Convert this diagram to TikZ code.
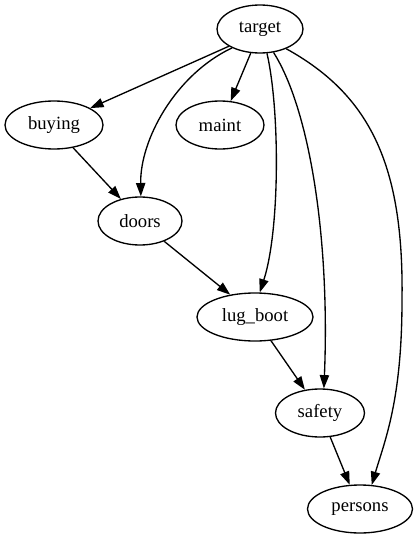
\documentclass[tikz,border=0pt]{standalone}
\usepackage{fontspec}
\setmainfont{Liberation Serif}
\usetikzlibrary{shapes.geometric, arrows.meta}
\tikzstyle{attr}=[ellipse, draw, line width=1pt, minimum height=36pt, inner sep=0pt, font=\fontsize{14}{16}\selectfont]
\tikzstyle{link}=[line width=1pt, -{Triangle[length=10pt, width=7pt]}]

\begin{document}
\begin{tikzpicture}[x=0.75pt, y=-0.75pt]
				\useasboundingbox (0,0) rectangle (418,539);

				\node[attr, minimum width=64.5pt] (target) at (260,29) {target};
				\node[attr, minimum width=73.5pt] (buying) at (54,125) {buying};
				\node[attr, minimum width=66pt] (maint) at (220,125) {maint};
				\node[attr, minimum width=63pt] (doors) at (140,221) {doors};
				\node[attr, minimum width=87pt] (lugboot) at (255,317) {lug\_boot};
				\node[attr, minimum width=66.75pt] (safety) at (320,413) {safety};
				\node[attr, minimum width=78.75pt] (persons) at (360,509) {persons};

				\draw[link] (target.209) -- (buying.25);
				\draw[link] (target.249) -- (maint.66);
				\draw[link] (target.214) .. controls (175,75) and (140,140) .. (doors.88);
				\draw[link] (target.286) .. controls (280,110) and (280,230) .. (lugboot.79);
				\draw[link] (target.300) .. controls (310,110) and (330,240) .. (safety.81);
				\coordinate (bend) at (402,300);
				\draw[link] (target.323) .. controls (370,95) and (404,165) .. (bend)
					.. controls (402,400) and (385,440) .. (persons.64);

				\draw[link] (buying.310) -- (doors.131);
				\draw[link] (doors.320) -- (lugboot.138);
				\draw[link] (lugboot.304) -- (safety.123);
				\draw[link] (safety.293) -- (persons.113);
			\end{tikzpicture}
\end{document}
